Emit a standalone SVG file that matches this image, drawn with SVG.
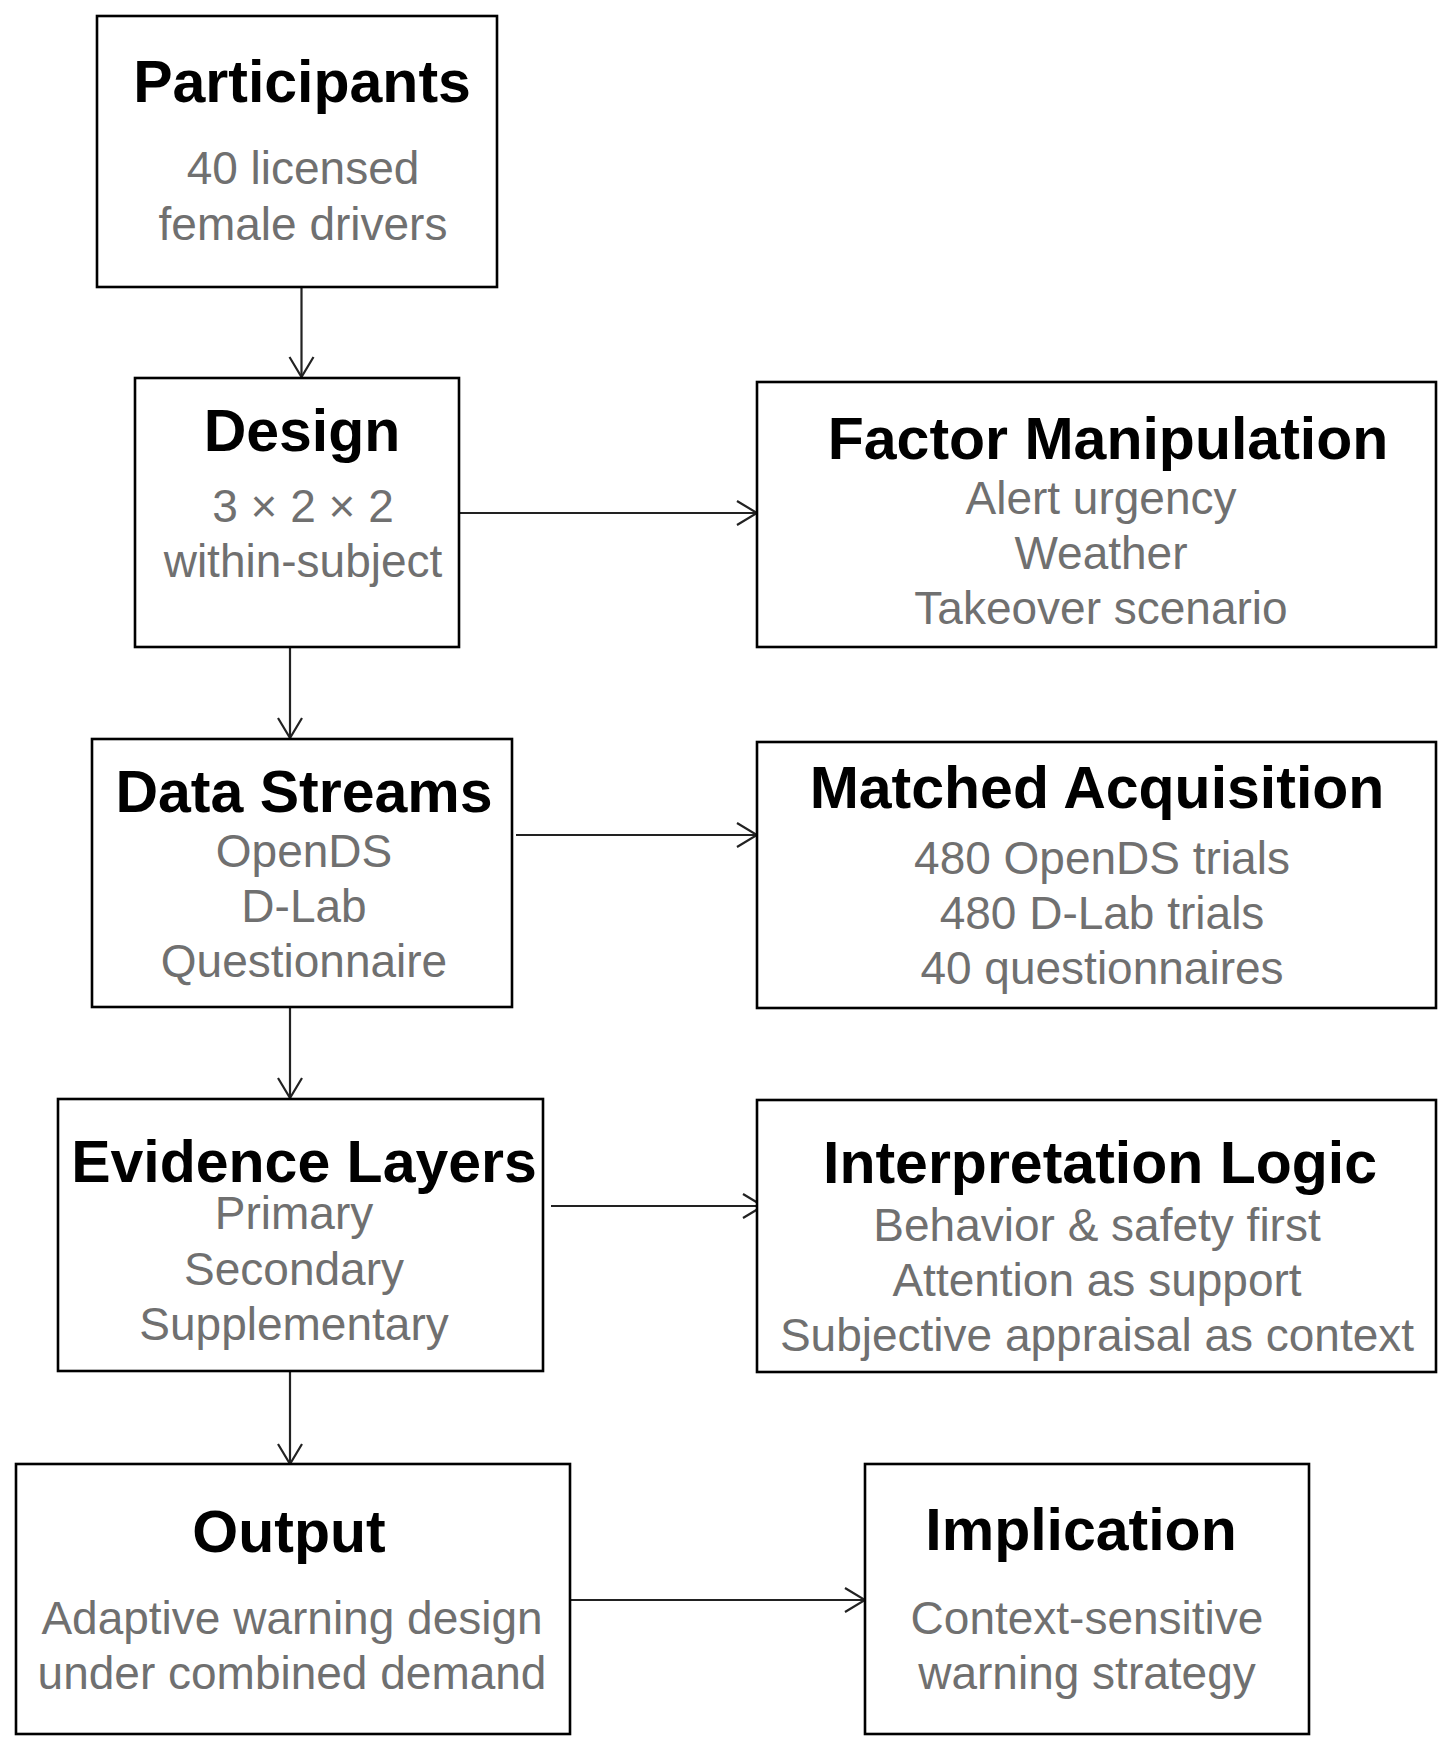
<svg xmlns="http://www.w3.org/2000/svg" width="1452" height="1751" viewBox="0 0 1452 1751">
<style>
.box{fill:#fff;stroke:#000;stroke-width:2.6}
.t{font-family:"Liberation Sans",Arial,sans-serif;font-weight:bold;font-size:59px;fill:#000;text-anchor:middle}
.s{font-family:"Liberation Sans",Arial,sans-serif;font-size:46px;fill:#707070;text-anchor:middle}
.c{fill:none;stroke:#222;stroke-width:2.2}
</style>
<defs>
<marker id="arr" markerUnits="userSpaceOnUse" markerWidth="24" markerHeight="28" viewBox="0 0 24 28" refX="22" refY="14" orient="auto">
<path d="M2,2 L22,14 L2,26" fill="none" stroke="#222" stroke-width="2.2"/>
</marker>
</defs>
<rect width="1452" height="1751" fill="#fff"/>
<g id="connectors">
<line class="c" x1="301.5" y1="288" x2="301.5" y2="377" marker-end="url(#arr)"/>
<line class="c" x1="290" y1="647" x2="290" y2="738" marker-end="url(#arr)"/>
<line class="c" x1="290" y1="1007" x2="290" y2="1098" marker-end="url(#arr)"/>
<line class="c" x1="290" y1="1372" x2="290" y2="1464" marker-end="url(#arr)"/>
<line class="c" x1="458" y1="513" x2="757" y2="513" marker-end="url(#arr)"/>
<line class="c" x1="516" y1="835" x2="757" y2="835" marker-end="url(#arr)"/>
<line class="c" x1="551" y1="1206" x2="763" y2="1206" marker-end="url(#arr)"/>
<line class="c" x1="570" y1="1600" x2="865" y2="1600" marker-end="url(#arr)"/>
</g>
<g id="participants">
<rect class="box" x="97" y="16" width="400" height="271"/>
<text class="t" x="302" y="102">Participants</text>
<text class="s" x="303" y="184">40 licensed</text>
<text class="s" x="303" y="240">female drivers</text>
</g>
<g id="design">
<rect class="box" x="135" y="378" width="324" height="269"/>
<text class="t" x="302" y="451">Design</text>
<text class="s" x="303" y="522">3 × 2 × 2</text>
<text class="s" x="303" y="577">within-subject</text>
</g>
<g id="factor">
<rect class="box" x="757" y="382" width="679" height="265"/>
<text class="t" x="1108" y="459">Factor Manipulation</text>
<text class="s" x="1101" y="514">Alert urgency</text>
<text class="s" x="1101" y="569">Weather</text>
<text class="s" x="1101" y="624">Takeover scenario</text>
</g>
<g id="datastreams">
<rect class="box" x="92" y="739" width="420" height="268"/>
<text class="t" x="304" y="812">Data Streams</text>
<text class="s" x="304" y="867">OpenDS</text>
<text class="s" x="304" y="922">D-Lab</text>
<text class="s" x="304" y="977">Questionnaire</text>
</g>
<g id="matched">
<rect class="box" x="757" y="742" width="679" height="266"/>
<text class="t" x="1097" y="808">Matched Acquisition</text>
<text class="s" x="1102" y="874">480 OpenDS trials</text>
<text class="s" x="1102" y="929">480 D-Lab trials</text>
<text class="s" x="1102" y="984">40 questionnaires</text>
</g>
<g id="evidence">
<rect class="box" x="58" y="1099" width="485" height="272"/>
<text class="t" x="304" y="1182">Evidence Layers</text>
<text class="s" x="294" y="1229">Primary</text>
<text class="s" x="294" y="1285">Secondary</text>
<text class="s" x="294" y="1340">Supplementary</text>
</g>
<g id="interpretation">
<rect class="box" x="757" y="1100" width="679" height="272"/>
<text class="t" x="1100" y="1183">Interpretation Logic</text>
<text class="s" x="1097" y="1241">Behavior &amp; safety first</text>
<text class="s" x="1097" y="1296">Attention as support</text>
<text class="s" x="1097" y="1351">Subjective appraisal as context</text>
</g>
<g id="output">
<rect class="box" x="16" y="1464" width="554" height="270"/>
<text class="t" x="289" y="1552">Output</text>
<text class="s" x="292" y="1634">Adaptive warning design</text>
<text class="s" x="292" y="1689">under combined demand</text>
</g>
<g id="implication">
<rect class="box" x="865" y="1464" width="444" height="270"/>
<text class="t" x="1081" y="1550">Implication</text>
<text class="s" x="1087" y="1634">Context-sensitive</text>
<text class="s" x="1087" y="1689">warning strategy</text>
</g>
</svg>
